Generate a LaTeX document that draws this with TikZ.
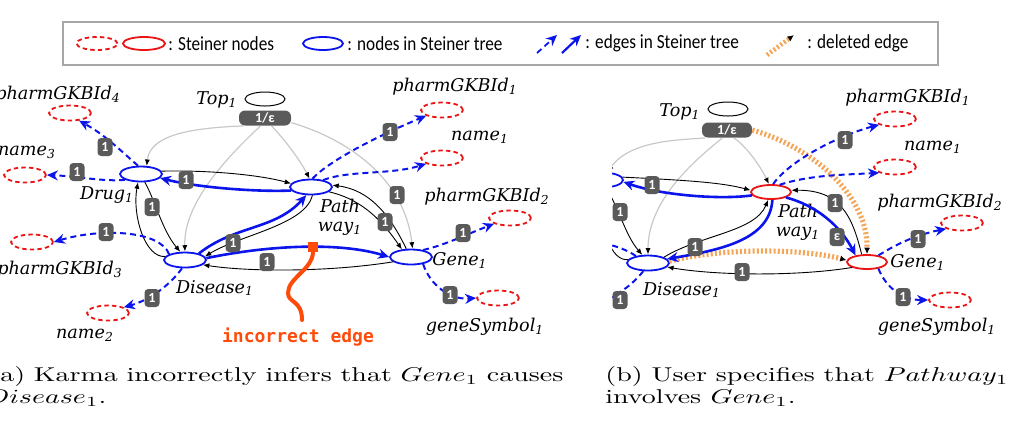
\documentclass[tikz,border=0pt]{standalone}
\usepackage{fontspec}
\usepackage{graphicx}
\usetikzlibrary{arrows.meta,shapes.geometric}
\newfontfamily\labfont{DejaVu Serif}
\newfontfamily\legfont{Carlito}
\newfontfamily\incfont{DejaVu Sans Mono}
\definecolor{bl}{RGB}{10,20,235}
\definecolor{rd}{RGB}{235,20,20}
\definecolor{bdg}{RGB}{90,90,90}
\definecolor{orn}{RGB}{245,165,85}
\definecolor{inc}{RGB}{255,75,10}
\definecolor{gr}{RGB}{200,200,200}
\newcommand\legtxt[1]{\scalebox{0.86}[1]{#1}}
\newcommand\captxt[2]{\scalebox{1.4}[1]{\makebox[#1][s]{#2}}}
\tikzset{
 snode/.style={ellipse, draw=rd, line width=0.9pt, dash pattern=on 2.2pt off 1.6pt, minimum width=21pt, minimum height=7.5pt, inner sep=0pt},
 rnode/.style={ellipse, draw=rd, line width=0.9pt, minimum width=21pt, minimum height=7.5pt, inner sep=0pt},
 tnode/.style={ellipse, draw=bl, line width=0.9pt, minimum width=21pt, minimum height=7.5pt, inner sep=0pt},
 topn/.style={ellipse, draw=black, line width=0.5pt, minimum width=20pt, minimum height=7pt, inner sep=0pt},
 badge/.style={fill=bdg, text=white, rounded corners=1.8pt, minimum width=7.5pt, minimum height=9pt, inner sep=0pt, font=\legfont\fontsize{7}{7}\selectfont\bfseries},
 epsb/.style={badge, minimum width=26pt, minimum height=7.5pt, rounded corners=3pt},
 lbl/.style={font=\labfont\itshape\fontsize{8.8}{9.5}\selectfont, inner sep=0pt},
 blk/.style={draw=black, line width=0.45pt, -{Latex[length=3.2pt,width=2.6pt]}},
 gry/.style={draw=gr, line width=0.6pt, -{Latex[length=3.2pt,width=2.6pt,color=black]}},
 bth/.style={draw=bl, line width=1.3pt, -{Stealth[length=5.5pt,width=5pt]}},
 bda/.style={draw=bl, line width=1pt, dash pattern=on 3pt off 2pt, -{Stealth[length=5.5pt,width=5pt]}},
 dele/.style={draw=orn, line width=2.6pt, dash pattern=on 1pt off 1.1pt, -{Latex[length=3.2pt,width=3pt,color=black]}},
 legt/.style={font=\legfont\fontsize{10}{11}\selectfont, anchor=west, inner sep=0pt},
 capt/.style={anchor=base west, inner sep=0pt, font=\fontsize{10}{12}\selectfont},
}
\begin{document}
\begin{tikzpicture}[x=0.5pt,y=-0.5pt]
\useasboundingbox (0,0) rectangle (1009,420);
% ---------------- legend ----------------
\draw[gray!70, line width=0.8pt] (63,22) rectangle (938,65);
\node[snode, minimum width=20.5pt, minimum height=6.5pt] (lg1) at (97,43.5) {};
\node[rnode, minimum width=21pt, minimum height=6.5pt] (lg2) at (144,43.5) {};
\node[legt] (lt1) at (168,43.5) {\legtxt{: Steiner nodes}};
\node[tnode, minimum width=20pt, minimum height=6.5pt] (lg3) at (323,43.5) {};
\node[legt] (lt2) at (347,43.5) {\legtxt{: nodes in Steiner tree}};
\coordinate (la1) at (537,53); \coordinate (la2) at (557,35);
\coordinate (lb1) at (562,53); \coordinate (lb2) at (581,35);
\draw[bda, line width=0.9pt] (la1) -- (la2);
\draw[bth, line width=1.1pt] (lb1) -- (lb2);
\node[legt] (lt3) at (585,43.5) {\legtxt{: edges in Steiner tree}};
\coordinate (ld1) at (767,55); \coordinate (ld2) at (794,35);
\draw[dele, line width=2.3pt] (ld1) -- (ld2);
\node[legt] (lt4) at (807,43.5) {\legtxt{: deleted edge}};
% ---------------- panel (a) ----------------
\node[topn] (top) at (265,99) {};
\node[tnode] (drug) at (141,174) {};
\node[tnode] (disease) at (185,260) {};
\node[tnode] (path) at (311,187) {};
\node[tnode] (gene) at (411,257) {};
\node[snode] (p4) at (70,113) {};
\node[snode] (n3) at (25,175) {};
\node[snode] (p3) at (32,242) {};
\node[snode] (n2) at (108,313) {};
\node[snode] (p1) at (442,110) {};
\node[snode] (n1) at (442,158) {};
\node[snode] (p2) at (510,218) {};
\node[snode] (gs) at (498,298) {};
\node[epsb] (eps) at (265,118) {1/ε};
% labels
\node[lbl] (tp4) at (58,95) {pharmGKBId\textsubscript{4}};
\node[lbl] (tn3) at (27,152) {name\textsubscript{3}};
\node[lbl] (tdrug) at (107,195) {Drug\textsubscript{1}};
\node[lbl] (ttop) at (217,100) {Top\textsubscript{1}};
\node[lbl] (tp3) at (60,270) {pharmGKBId\textsubscript{3}};
\node[lbl] (tdis) at (215,288) {Disease\textsubscript{1}};
\node[lbl] (tn2) at (85,335) {name\textsubscript{2}};
\node[lbl] (tp1) at (455,87) {pharmGKBId\textsubscript{1}};
\node[lbl] (tn1) at (480,137) {name\textsubscript{1}};
\node[lbl] (tp2) at (487,197) {pharmGKBId\textsubscript{2}};
\node[lbl, align=center] (tpath) at (340,217) {Path\\way\textsubscript{1}};
\node[lbl] (tgene) at (460,260) {Gene\textsubscript{1}};
\node[lbl] (tgs) at (485,327) {geneSymbol\textsubscript{1}};
% gray edges
\draw[gry] (eps.200) .. controls (190,128) and (150,135) .. (drug.55);
\draw[gry] (eps.240) .. controls (235,150) and (183,200) .. (disease.90);
\draw[gry] (eps.-50) .. controls (285,140) and (300,160) .. (path.100);
\draw[gry] (eps.-10) .. controls (350,140) and (405,180) .. (gene.80);
% black edges
\draw[blk] (drug.8) .. controls (210,170) and (260,175) .. (path.170);
\draw[blk] (drug.-65) .. controls (155,200) and (162,230) .. (disease.120);
\draw[blk] (disease.170) .. controls (145,258) and (132,215) .. (drug.-110);
\draw[blk] (path.-80) .. controls (305,225) and (240,235) .. (disease.10);
\draw[blk] (gene.120) .. controls (390,215) and (370,190) .. (path.5);
\draw[blk] (path.-15) .. controls (365,200) and (385,225) .. (gene.140);
\draw[blk] (gene.195) .. controls (330,272) and (250,272) .. (disease.-15);
% blue thick edges
\draw[bth] (path.190) .. controls (260,192) and (200,188) .. (drug.-12);
\draw[bth] (disease.25) .. controls (235,225) and (275,230) .. (path.-120);
\draw[bth] (disease.5) .. controls (270,245) and (340,242) .. (gene.west);
% blue dashed edges
\draw[bda] (drug.110) .. controls (120,150) and (105,135) .. (p4.-40);
\draw[bda] (drug.200) .. controls (105,182) and (75,176) .. (n3.east);
\draw[bda] (disease.160) .. controls (160,230) and (100,228) .. (p3.east);
\draw[bda] (disease.250) .. controls (170,285) and (150,300) .. (n2.20);
\draw[bda] (path.80) .. controls (330,160) and (380,135) .. (p1.200);
\draw[bda] (path.30) .. controls (350,170) and (390,175) .. (n1.200);
\draw[bda] (gene.30) .. controls (445,245) and (465,235) .. (p2.200);
\draw[bda] (gene.-30) .. controls (430,285) and (450,300) .. (gs.west);
% badges
\node[badge] (a1) at (105,147) {1};
\node[badge] (a2) at (77,172) {1};
\node[badge] (a3) at (106,232) {1};
\node[badge] (a4) at (152,298) {1};
\node[badge] (a5) at (390,132) {1};
\node[badge] (a6) at (463,233) {1};
\node[badge] (a7) at (450,295) {1};
\node[badge] (a8) at (186,180) {1};
\node[badge] (a9) at (152,207) {1};
\node[badge] (a10) at (233,243) {1};
\node[badge] (a11) at (385,222) {1};
\node[badge] (a12) at (397,195) {1};
\node[badge] (a13) at (267,262) {1};
% incorrect edge
\node[fill=inc, minimum size=5pt, inner sep=0pt] (sq) at (313,247) {};
\coordinate (sqend) at (302,320);
\draw[inc, line width=2pt, line cap=round] (sq.south) .. controls (312,270) and (288,278) .. (288,293) .. controls (288,303) and (302,300) .. (sqend);
\node[font=\incfont\bfseries\fontsize{9}{10}\selectfont, text=inc, inner sep=0pt] (inctxt) at (298,337) {incorrect edge};
% ---------------- panel (b) ----------------
\begin{scope}
\clip (612,0) rectangle (1009,360);
\node[topn] (topb) at (728,109) {};
\node[tnode] (drugb) at (602,180) {};
\node[tnode] (diseaseb) at (648,263) {};
\node[rnode, minimum width=20pt, minimum height=7pt] (pathb) at (771,192) {};
\node[rnode, minimum width=20pt, minimum height=7pt] (geneb) at (867,262) {};
\node[snode] (p1b) at (895,119) {};
\node[snode] (n1b) at (895,167) {};
\node[snode] (p2b) at (962,223) {};
\node[snode] (gsb) at (950,300) {};
\coordinate (p3b) at (500,242);
\coordinate (n2b) at (569,313);
\node[epsb, minimum width=25pt] (epsb) at (727,130) {1/ε};
\node[lbl] (ttopb) at (680,112) {Top\textsubscript{1}};
\node[lbl] (tp1b) at (908,98) {pharmGKBId\textsubscript{1}};
\node[lbl] (tn1b) at (933,147) {name\textsubscript{1}};
\node[lbl] (tp2b) at (940,203) {pharmGKBId\textsubscript{2}};
\node[lbl, align=center] (tpathb) at (798,222) {Path\\way\textsubscript{1}};
\node[lbl] (tgeneb) at (918,262) {Gene\textsubscript{1}};
\node[lbl] (tdisb) at (682,290) {Disease\textsubscript{1}};
\node[lbl] (tgsb) at (937,327) {geneSymbol\textsubscript{1}};
% gray
\draw[gry] (epsb.200) .. controls (680,140) and (630,140) .. (drugb.55);
\draw[gry] (epsb.240) .. controls (695,160) and (648,200) .. (diseaseb.90);
\draw[gry] (epsb.-50) .. controls (745,145) and (760,165) .. (pathb.105);
% deleted
\draw[dele] (epsb.east) .. controls (820,150) and (868,200) .. (geneb.north);
\draw[dele] (diseaseb.5) .. controls (720,248) and (800,248) .. (geneb.175);
% black
\draw[blk] (drugb.8) .. controls (680,180) and (720,182) .. (pathb.175);
\draw[blk] (drugb.-65) .. controls (618,205) and (625,235) .. (diseaseb.125);
\draw[blk] (diseaseb.170) .. controls (612,262) and (600,230) .. (drugb.-110);
\draw[blk] (diseaseb.20) .. controls (700,235) and (755,232) .. (pathb.-110);
\draw[blk] (geneb.125) .. controls (852,215) and (840,190) .. (pathb.5);
\draw[blk] (geneb.200) .. controls (800,276) and (720,276) .. (diseaseb.-12);
% blue thick
\draw[bth] (pathb.190) .. controls (720,200) and (660,195) .. (drugb.-5);
\draw[bth] (pathb.-80) .. controls (770,240) and (720,250) .. (diseaseb.12);
\draw[bth] (pathb.-20) .. controls (815,205) and (840,225) .. (geneb.150);
% blue dashed
\draw[bda] (diseaseb.150) .. controls (620,245) and (590,235) .. (p3b);
\draw[bda] (diseaseb.240) .. controls (632,285) and (615,300) .. (n2b);
\draw[bda] (pathb.75) .. controls (790,160) and (840,135) .. (p1b.200);
\draw[bda] (pathb.40) .. controls (810,175) and (840,175) .. (n1b.200);
\draw[bda] (geneb.30) .. controls (895,245) and (915,235) .. (p2b.200);
\draw[bda] (geneb.-30) .. controls (885,285) and (900,300) .. (gsb.west);
% badges
\node[badge] (b1) at (845,140) {1};
\node[badge] (b2) at (918,239) {1};
\node[badge] (b3) at (903,297) {1};
\node[badge] (b4) at (652,185) {1};
\node[badge] (b5) at (620,212) {1};
\node[badge] (b6) at (695,247) {1};
\node[badge] (b7) at (835,203) {1};
\node[badge] (b8) at (837,237) {ε};
\node[badge] (b9) at (742,272) {1};
\node[badge] (b10) at (620,300) {1};
\end{scope}
% ---------------- captions ----------------
\node[capt] (ca1) at (-11,381) {\captxt{205pt}{(a) Karma incorrectly infers that $Gene_1$ causes}};
\node[capt] (ca2) at (-15,403) {\scalebox{1.4}[1]{$Disease_1$.}};
\node[capt] (cb1) at (605,381) {\captxt{144pt}{(b) User specifies that $Pathway_1$}};
\node[capt] (cb2) at (605,403) {\scalebox{1.4}[1]{involves $Gene_1$.}};
\end{tikzpicture}
\end{document}
